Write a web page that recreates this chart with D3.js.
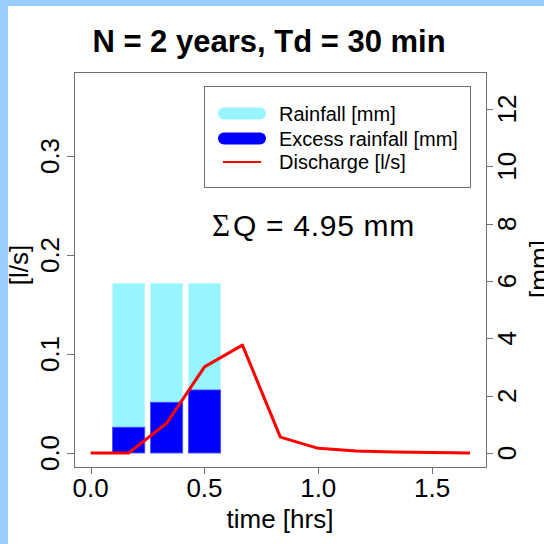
<!DOCTYPE html>
<html lang="en">
<head>
    <meta charset="UTF-8">
    <title>Hydrograph N = 2 years, Td = 30 min</title>
    <script src="https://cdn.jsdelivr.net/npm/d3@7.9.0/dist/d3.min.js"></script>
    <style>
        body {
            margin: 0;
            background: #ffffff;
            overflow: hidden;
        }
        svg {
            display: block;
            font-family: "Liberation Sans", Arial, Helvetica, sans-serif;
        }
        .frame { fill: none; stroke: #707070; stroke-width: 1px; }
        .tick-line { stroke: #707070; stroke-width: 1px; }
    </style>
</head>
<body>
<svg id="chart" width="544" height="544"></svg>

<script>
    // --- data ---
    const title = "N = 2 years, Td = 30 min";
    const qTimes = [0, 1/6, 2/6, 3/6, 4/6, 5/6, 1, 7/6, 8/6, 9/6, 10/6];       // hrs
    const discharge = [0, 0, 0.030, 0.087, 0.109, 0.016, 0.0047, 0.002, 0.001, 0.0004, 0.0001]; // l/s
    const rainTimes = [1/6, 2/6, 3/6];                                          // bar centres, hrs
    const rainfall = [5.92, 5.92, 5.92];                                        // mm
    const excessRain = [0.90, 1.77, 2.20];                                      // mm
    const xTicks = [0, 0.5, 1.0, 1.5];
    const qTicks = [0, 0.1, 0.2, 0.3];
    const mmTicks = [0, 2, 4, 6, 8, 10, 12];
    const legendLabels = ["Rainfall [mm]", "Excess rainfall [mm]", "Discharge [l/s]"];
    const sumQ = "4.95";

    const colRain = "#98F5FF";
    const colExcess = "#0000FF";
    const colQ = "#FF0000";

    const svg = d3.select("#chart");

    // blue page border (left and top)
    svg.append("rect").attr("x", 0).attr("y", 0).attr("width", 544).attr("height", 6).attr("fill", "#99CCFF");
    svg.append("rect").attr("x", 0).attr("y", 0).attr("width", 8).attr("height", 544).attr("fill", "#99CCFF");

    // plot box
    const box = {left: 74, right: 486, top: 72, bottom: 467};

    // scales
    const x = d3.scaleLinear().domain([0, 10/6]).range([90.7, 470]);
    const yQ = d3.scaleLinear().domain([0, 0.3]).range([453, 156]);
    const yMM = d3.scaleLinear().domain([0, 12]).range([453, 109]);

    const barW = x(0.142) - x(0);

    // rainfall bars
    svg.append("g").selectAll("rect")
        .data(rainTimes)
        .enter().append("rect")
        .attr("x", (d) => x(d) - barW / 2)
        .attr("width", barW)
        .attr("y", (d, i) => yMM(rainfall[i]))
        .attr("height", (d, i) => yMM(0) - yMM(rainfall[i]))
        .attr("fill", colRain)
        .attr("stroke", "#c8f8ff")
        .attr("stroke-width", 0.8);

    svg.append("g").selectAll("rect")
        .data(rainTimes)
        .enter().append("rect")
        .attr("x", (d) => x(d) - barW / 2)
        .attr("width", barW)
        .attr("y", (d, i) => yMM(excessRain[i]))
        .attr("height", (d, i) => yMM(0) - yMM(excessRain[i]))
        .attr("fill", colExcess)
        .attr("stroke", "#5555ff")
        .attr("stroke-width", 0.8);

    // discharge line
    const line = d3.line()
        .x((d, i) => x(qTimes[i]))
        .y((d) => yQ(d));

    svg.append("path")
        .datum(discharge)
        .attr("d", line)
        .attr("fill", "none")
        .attr("stroke", colQ)
        .attr("stroke-width", 3)
        .attr("stroke-linejoin", "round");

    // frame
    svg.append("rect")
        .attr("class", "frame")
        .attr("x", box.left + 0.5).attr("y", box.top + 0.5)
        .attr("width", box.right - box.left).attr("height", box.bottom - box.top);

    // bottom axis
    const gx = svg.append("g");
    gx.selectAll("line").data(xTicks).enter().append("line")
        .attr("class", "tick-line")
        .attr("x1", (d) => Math.round(x(d)) + 0.5).attr("x2", (d) => Math.round(x(d)) + 0.5)
        .attr("y1", box.bottom).attr("y2", box.bottom + 7);
    gx.selectAll("text").data(xTicks).enter().append("text")
        .attr("x", (d) => x(d))
        .attr("y", 497)
        .attr("text-anchor", "middle")
        .attr("font-size", 26)
        .text((d) => d3.format(".1f")(d));

    // left axis
    const gl = svg.append("g");
    gl.selectAll("line").data(qTicks).enter().append("line")
        .attr("class", "tick-line")
        .attr("x1", box.left - 7).attr("x2", box.left)
        .attr("y1", (d) => Math.round(yQ(d)) + 0.5).attr("y2", (d) => Math.round(yQ(d)) + 0.5);
    gl.selectAll("text").data(qTicks).enter().append("text")
        .attr("transform", (d) => `translate(59,${yQ(d)}) rotate(-90)`)
        .attr("text-anchor", "middle")
        .attr("font-size", 26)
        .text((d) => d3.format(".1f")(d));

    // right axis
    const gr = svg.append("g");
    gr.selectAll("line").data(mmTicks).enter().append("line")
        .attr("class", "tick-line")
        .attr("x1", box.right).attr("x2", box.right + 7)
        .attr("y1", (d) => Math.round(yMM(d)) + 0.5).attr("y2", (d) => Math.round(yMM(d)) + 0.5);
    gr.selectAll("text").data(mmTicks).enter().append("text")
        .attr("transform", (d) => `translate(516,${yMM(d)}) rotate(-90)`)
        .attr("text-anchor", "middle")
        .attr("font-size", 26)
        .text((d) => d);

    // axis titles
    svg.append("text")
        .attr("x", 280).attr("y", 528)
        .attr("text-anchor", "middle")
        .attr("font-size", 26)
        .text("time [hrs]");

    svg.append("text")
        .attr("transform", "translate(28,265) rotate(-90)")
        .attr("text-anchor", "middle")
        .attr("font-size", 26)
        .text("[l/s]");

    // right title sits partly past the page edge, as in the reference
    svg.append("text")
        .attr("transform", "translate(548,269) rotate(-90)")
        .attr("text-anchor", "middle")
        .attr("font-size", 26)
        .text("[mm]");

    // title
    svg.append("text")
        .attr("x", 269).attr("y", 52)
        .attr("text-anchor", "middle")
        .attr("font-size", 31)
        .attr("font-weight", "bold")
        .text(title);

    // sum of discharge
    const sq = svg.append("text")
        .attr("x", 212).attr("y", 236)
        .attr("font-size", 30);
    sq.append("tspan")
        .attr("font-family", "'Liberation Serif', 'DejaVu Serif', serif")
        .attr("font-size", 31)
        .text("\u03A3");
    sq.append("tspan")
        .attr("dx", 3)
        .attr("letter-spacing", 0.7)
        .text(`Q = ${sumQ} mm`);

    // legend
    const lg = svg.append("g");
    lg.append("rect")
        .attr("x", 204.5).attr("y", 86.5)
        .attr("width", 266).attr("height", 101)
        .attr("fill", "#ffffff")
        .attr("stroke", "#707070");

    const legendY = [113.5, 138.5, 162];
    const legendStyle = [
        {color: colRain, width: 12, x1: 218, x2: 266},
        {color: colExcess, width: 12, x1: 218, x2: 266},
        {color: colQ, width: 2, x1: 223, x2: 261}
    ];

    lg.selectAll("line").data(legendStyle).enter().append("line")
        .attr("x1", (d) => d.x1 + (d.width > 2 ? d.width / 2 : 0))
        .attr("x2", (d) => d.x2 - (d.width > 2 ? d.width / 2 : 0))
        .attr("y1", (d, i) => legendY[i]).attr("y2", (d, i) => legendY[i])
        .attr("stroke", (d) => d.color)
        .attr("stroke-width", (d) => d.width)
        .attr("stroke-linecap", (d) => d.width > 2 ? "round" : "butt");

    lg.selectAll("text").data(legendLabels).enter().append("text")
        .attr("x", 279)
        .attr("y", (d, i) => legendY[i] + 7)
        .attr("font-size", 20)
        .text((d) => d);
</script>
</body>
</html>
